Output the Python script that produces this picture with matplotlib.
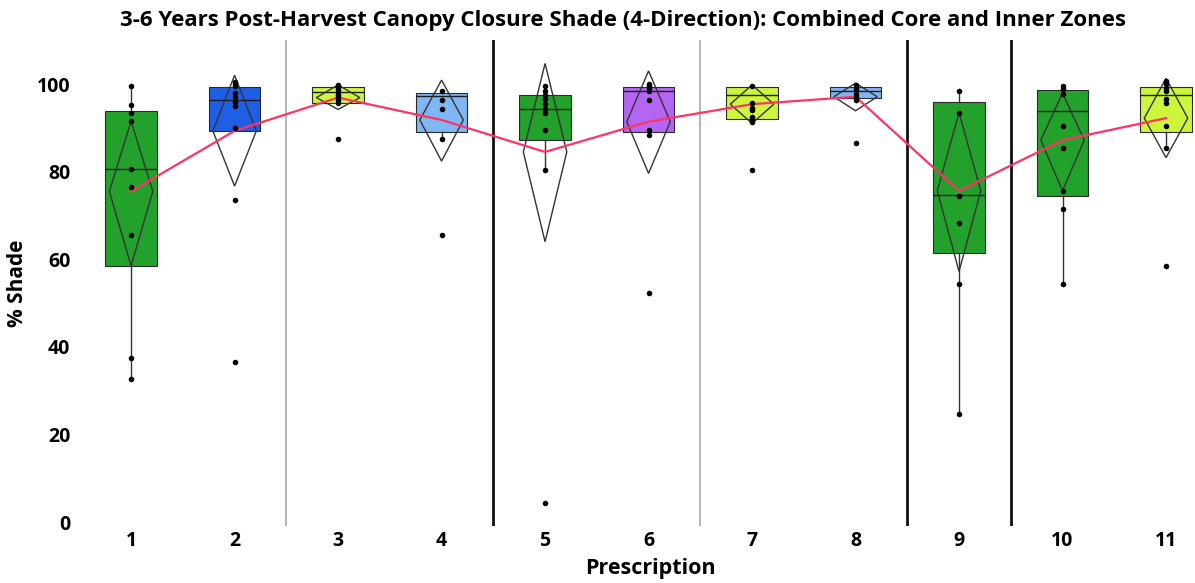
import matplotlib
matplotlib.use("Agg")
import matplotlib.pyplot as plt
import numpy as np

# ---------------- data ----------------
prescriptions = ["1", "2", "3", "4", "5", "6", "7", "8", "9", "10", "11"]

q1 = [58.5, 89.3, 95.6, 89.0, 87.2, 89.0, 92.0, 96.7, 61.5, 74.4, 89.1]
med = [80.5, 96.3, 98.1, 97.3, 94.4, 98.5, 97.6, 98.5, 74.7, 93.9, 97.5]
q3 = [93.8, 99.4, 99.4, 98.0, 97.6, 99.4, 99.4, 99.4, 95.9, 98.6, 99.4]
whis_lo = [32.6, 89.3, 95.6, 87.4, 80.4, 88.4, 91.4, 96.3, 24.6, 54.3, 85.5]
whis_hi = [99.6, 100.5, 99.8, 98.5, 99.6, 100.0, 99.6, 99.8, 98.5, 99.6, 100.6]

means = [75.5, 89.3, 96.9, 91.8, 84.5, 91.4, 95.4, 97.1, 75.6, 87.2, 92.2]
ci_lo = [58.5, 76.7, 94.2, 82.4, 64.0, 79.6, 91.0, 93.9, 57.2, 75.6, 83.2]
ci_hi = [91.5, 102.0, 99.8, 100.9, 104.7, 103.0, 99.8, 100.2, 93.5, 97.9, 101.3]

points = [
    [99.6, 95.3, 93.5, 91.5, 80.5, 76.4, 65.5, 37.5, 32.6],
    [100.5, 100.0, 99.5, 98.0, 97.0, 96.0, 95.0, 89.9, 73.5, 36.5],
    [99.8, 99.3, 98.8, 98.2, 97.6, 97.0, 96.4, 95.6, 87.4],
    [98.5, 96.3, 94.4, 87.4, 65.5],
    [99.6, 98.5, 97.5, 96.5, 95.5, 94.4, 93.5, 89.5, 80.4, 4.4],
    [100.0, 99.5, 99.0, 98.3, 96.3, 89.5, 88.4, 52.4],
    [99.6, 95.6, 94.6, 94.1, 92.5, 91.9, 91.4, 80.4],
    [99.8, 99.2, 98.6, 97.8, 97.0, 96.3, 86.5],
    [98.5, 93.5, 74.4, 68.3, 54.3, 24.6],
    [99.6, 98.8, 97.7, 90.4, 85.5, 75.6, 71.4, 54.3],
    [100.6, 100.0, 99.2, 98.3, 96.5, 95.6, 90.4, 85.5, 58.4],
]

box_colors = ["#22a12b", "#1f5fe6", "#ccf53c", "#80b6f4", "#22a12b", "#b466f2",
              "#ccf53c", "#80b6f4", "#22a12b", "#22a12b", "#ccf53c"]

thin_separators = [2.5, 6.5]
thick_separators = [4.5, 8.5, 9.5]

# ---------------- plot ----------------
plt.rcParams['font.family'] = ['Open Sans', 'DejaVu Sans']
fig = plt.figure(figsize=(11.95, 5.83), dpi=100)
ax = fig.add_axes([0.067, 0.097, 0.933, 0.834])

pos = np.arange(1, len(prescriptions) + 1)

stats = []
for i in range(len(prescriptions)):
    stats.append(dict(med=med[i], q1=q1[i], q3=q3[i], whislo=whis_lo[i],
                      whishi=whis_hi[i], fliers=[], label=prescriptions[i]))

bp = ax.bxp(stats, positions=pos, widths=0.5, patch_artist=True,
            showcaps=False, showfliers=False,
            boxprops=dict(edgecolor="#2a2a2a", linewidth=0.8),
            medianprops=dict(color="#1a1a1a", linewidth=1.0),
            whiskerprops=dict(color="#333333", linewidth=1.0),
            zorder=2)
for patch, c in zip(bp['boxes'], box_colors):
    patch.set_facecolor(c)

# mean diamonds
hw = 0.21
for x, m, lo, hi in zip(pos, means, ci_lo, ci_hi):
    ax.fill([x - hw, x, x + hw, x], [m, hi, m, lo], fill=False,
            edgecolor="#333333", linewidth=1.0, zorder=3)

# data points
for x, pts in zip(pos, points):
    ax.scatter(np.full(len(pts), x), pts, s=16, color="black", zorder=5,
               linewidths=0)

# mean connect line
ax.plot(pos, means, color="#ff3366", linewidth=1.6, zorder=4)

# separators
for s in thin_separators:
    ax.axvline(s, color="#a8a8a8", linewidth=1.2, zorder=1)
for s in thick_separators:
    ax.axvline(s, color="#111111", linewidth=2.0, zorder=1)

ax.set_xlim(0.507, 11.28)
ax.set_ylim(-1, 110)
ax.set_yticks([0, 20, 40, 60, 80, 100])
ax.set_xticks(pos)
ax.set_xticklabels(prescriptions)
ax.tick_params(axis="y", length=0, labelsize=14, pad=7)
ax.tick_params(axis="x", length=0, labelsize=14, pad=3)
for lab in ax.get_xticklabels() + ax.get_yticklabels():
    lab.set_fontweight("bold")
for sp in ax.spines.values():
    sp.set_visible(False)

ax.set_ylabel("% Shade", fontsize=15, fontweight="bold")
ax.set_xlabel("Prescription", fontsize=15.5, fontweight="bold")
ax.xaxis.set_label_coords(0.512, -0.064)
ax.yaxis.set_label_coords(-0.047, 0.50)
fig.text(0.521, 0.964, "3-6 Years Post-Harvest Canopy Closure Shade (4-Direction): Combined Core and Inner Zones",
         ha="center", va="center", fontsize=16, fontweight="bold")

fig.savefig("out.png", dpi=100)
